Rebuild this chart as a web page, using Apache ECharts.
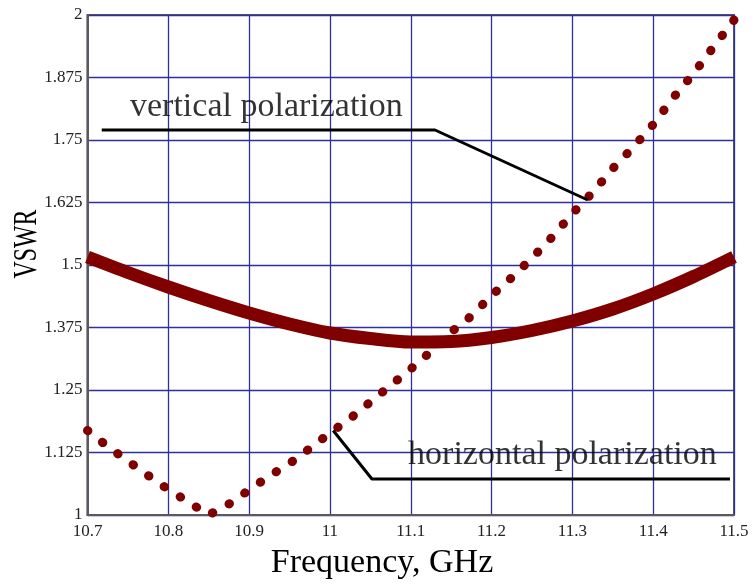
<!DOCTYPE html>
<html>
<head>
<meta charset="utf-8">
<script src="https://cdn.jsdelivr.net/npm/echarts@6/dist/echarts.min.js"></script>
<style>
html,body{margin:0;padding:0;background:#fff;}
#chart{width:753px;height:585px;}
</style>
</head>
<body>
<div id="chart"></div>
<script>
// Vertical polarization (solid thick curve)
var freqSolid = [10.7, 10.75, 10.8, 10.85, 10.9, 10.95, 11.0, 11.05, 11.1, 11.15, 11.2, 11.25, 11.3, 11.35, 11.4, 11.45, 11.5];
var vswrVertical = [1.516, 1.485, 1.456, 1.429, 1.404, 1.382, 1.364, 1.353, 1.346, 1.347, 1.355, 1.369, 1.388, 1.412, 1.442, 1.477, 1.516];

// Horizontal polarization (dotted curve)
var freqDotted = [10.7, 10.725, 10.75, 10.775, 10.8, 10.825, 10.85, 10.875, 10.9, 10.925, 10.95, 10.975, 11.0, 11.025, 11.05, 11.075, 11.1, 11.125, 11.15, 11.175, 11.2, 11.225, 11.25, 11.275, 11.3, 11.325, 11.35, 11.375, 11.4, 11.425, 11.45, 11.475, 11.5];
var vswrHorizontal = [1.169, 1.137, 1.108, 1.079, 1.051, 1.026, 1.0, 1.022, 1.050, 1.078, 1.103, 1.133, 1.164, 1.193, 1.226, 1.259, 1.292, 1.327, 1.366, 1.398, 1.439, 1.475, 1.514, 1.556, 1.603, 1.645, 1.693, 1.735, 1.781, 1.835, 1.883, 1.937, 1.99];

// Annotation leader lines (data coordinates)
var leaderVertical = [[10.7176, 1.77], [11.130, 1.77], [11.319, 1.63]];
var leaderHorizontal = [[11.004, 1.169], [11.052, 1.072], [11.495, 1.072]];
var labelVertical = {text: 'vertical polarization', at: [10.7526, 1.815]};
var labelHorizontal = {text: 'horizontal polarization', at: [11.0967, 1.119]};

var xTitle = 'Frequency, GHz';
var yTitle = 'VSWR';

function zip(a, b) { return a.map(function (v, i) { return [v, b[i]]; }); }

var serif = '"Liberation Serif", "Times New Roman", serif';
var red = '#800000';
var chart = echarts.init(document.getElementById('chart'), null, {renderer: 'canvas'});

var option = {
  animation: false,
  backgroundColor: '#ffffff',
  grid: {left: 87.5, right: 19, top: 15, bottom: 70, show: true, borderColor: '#5a5a5a', borderWidth: 2, backgroundColor: 'transparent'},
  xAxis: {
    type: 'value', min: 10.7, max: 11.5, interval: 0.1,
    axisLine: {show: true, lineStyle: {color: '#5a5a5a', width: 2}},
    axisTick: {show: false},
    splitLine: {show: true, lineStyle: {color: '#2f2f9e', width: 1.3}},
    axisLabel: {color: '#222', fontFamily: serif, fontSize: 17, margin: 8,
      formatter: function (v) { return String(parseFloat(v.toFixed(3))); }}
  },
  yAxis: {
    type: 'value', min: 1, max: 2, interval: 0.125,
    axisLine: {show: true, lineStyle: {color: '#5a5a5a', width: 2}},
    axisTick: {show: false},
    splitLine: {show: true, lineStyle: {color: '#2f2f9e', width: 1.3}},
    axisLabel: {color: '#222', fontFamily: serif, fontSize: 17, margin: 5,
      formatter: function (v) { return String(parseFloat(v.toFixed(3))); }}
  },
  series: [
    {
      name: 'vertical', type: 'line', data: zip(freqSolid, vswrVertical), smooth: 0.3,
      showSymbol: false, symbol: 'none', z: 3,
      lineStyle: {color: red, width: 13, cap: 'butt'}
    },
    {
      name: 'horizontal', type: 'line', data: zip(freqDotted, vswrHorizontal), smooth: false,
      showSymbol: false, symbol: 'none', z: 4,
      lineStyle: {color: red, width: 9, type: [0.5, 18.5], cap: 'round', join: 'round'}
    },
    {
      type: 'line', data: leaderVertical, symbol: 'none', z: 5, clip: false,
      lineStyle: {color: '#000', width: 3}
    },
    {
      type: 'line', data: leaderHorizontal, symbol: 'none', z: 5, clip: false,
      lineStyle: {color: '#000', width: 3}
    },
    {
      type: 'scatter', symbolSize: 0, z: 6, clip: false,
      data: [
        {value: labelVertical.at, label: {formatter: labelVertical.text}},
        {value: labelHorizontal.at, label: {formatter: labelHorizontal.text}}
      ],
      label: {show: true, position: 'inside', align: 'left', verticalAlign: 'middle',
        color: '#000', fontFamily: serif, fontSize: 34}
    }
  ],
  graphic: [
    {type: 'text', x: 27, y: 244, rotation: Math.PI / 2, scaleX: 0.7,
      style: {text: yTitle, fill: '#000', font: '34px ' + serif, align: 'center', verticalAlign: 'middle'}},
    {type: 'text', x: 382, y: 563,
      style: {text: xTitle, fill: '#000', font: '34px ' + serif, align: 'center', verticalAlign: 'middle'}}
  ]
};
chart.setOption(option);
</script>
</body>
</html>
